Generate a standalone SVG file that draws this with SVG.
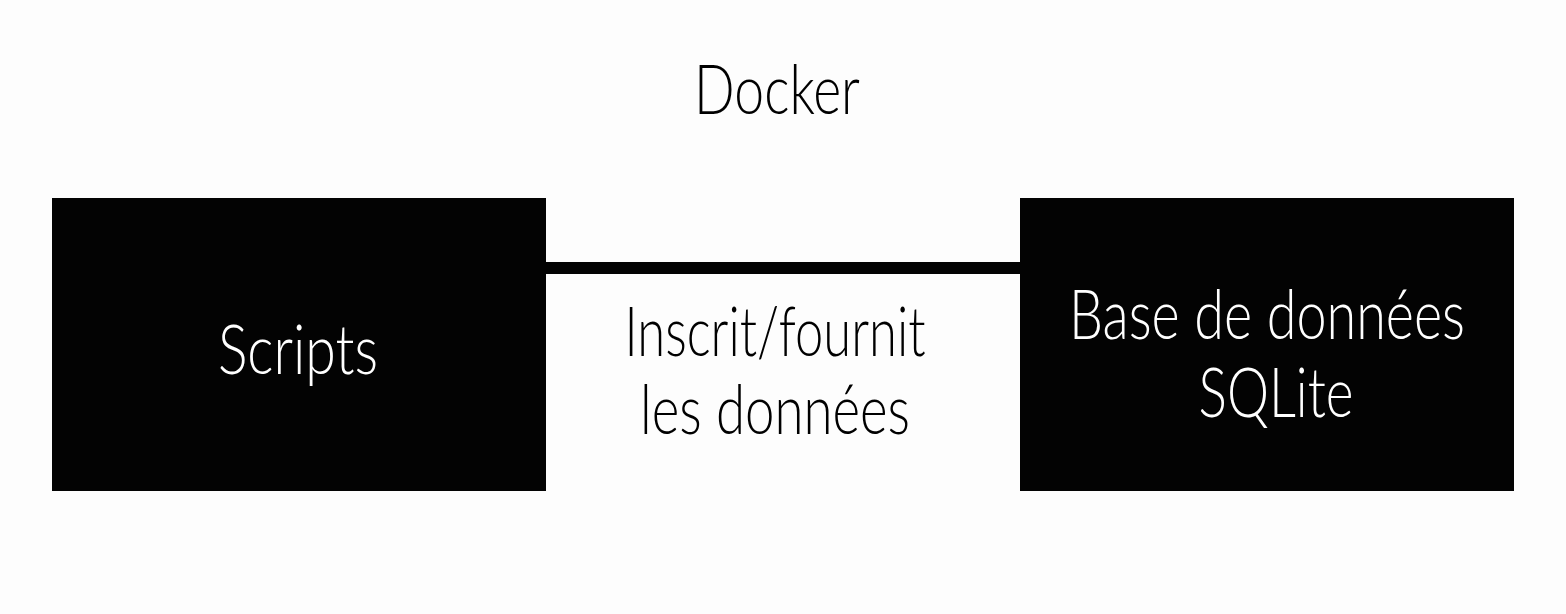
<svg xmlns="http://www.w3.org/2000/svg" width="1566" height="614" viewBox="0 0 1566 614">
<style>
.t{font-family:"Lato","Open Sans","Liberation Sans",sans-serif;font-size:68px;text-anchor:middle;font-weight:300}
.dark{fill:#030303}
.w{fill:#ffffff}
.b{fill:#000000}
</style>
<rect x="0" y="0" width="1566" height="614" fill="#fdfdfd"/>
<text class="t b" x="777" y="114" textLength="166" lengthAdjust="spacingAndGlyphs">Docker</text>
<g id="connectors">
<rect x="545" y="262" width="476" height="12" class="dark"/>
<text class="t b" x="775" y="356" textLength="301" lengthAdjust="spacingAndGlyphs">Inscrit/fournit</text>
<text class="t b" x="775" y="434" textLength="270" lengthAdjust="spacingAndGlyphs">les données</text>
</g>
<g id="scripts">
<rect x="52" y="198" width="494" height="293" class="dark"/>
<text class="t w" x="298" y="374" textLength="160" lengthAdjust="spacingAndGlyphs">Scripts</text>
</g>
<g id="sqlite">
<rect x="1020" y="198" width="494" height="293" class="dark"/>
<text class="t w" x="1267" y="339" textLength="396" lengthAdjust="spacingAndGlyphs">Base de données</text>
<text class="t w" x="1276" y="417" textLength="155" lengthAdjust="spacingAndGlyphs">SQLite</text>
</g>
</svg>
